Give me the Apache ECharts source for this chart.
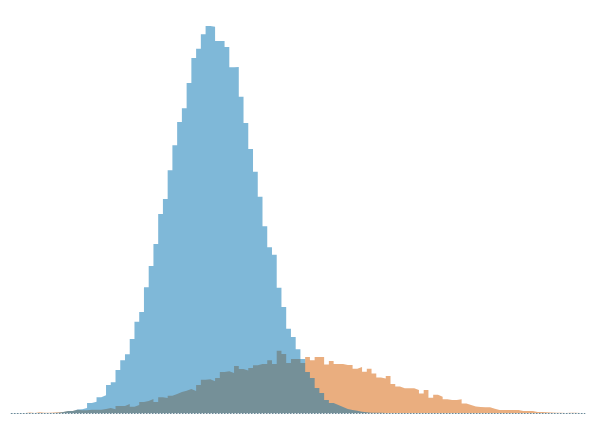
<!DOCTYPE html>
<html>
<head>
<meta charset="utf-8">
<script src="https://cdn.jsdelivr.net/npm/echarts@6/dist/echarts.min.js"></script>
<style>
html,body{margin:0;padding:0;background:#fff;}
#chart{width:600px;height:442px;}
</style>
</head>
<body>
<div id="chart"></div>
<script>
// Histogram bins (shared edges), index 0 = leftmost bin
const binCount = 121;

const blueCounts = [
  0,0,0,0,0,0,0,0,0,
  0.3,1,2,2,3.5,3.7,
  5,10,11.3,15.7,17.7,28,30.7,43,52.7,58.7,
  74,91.3,101,125.7,147,169,199,214,242.7,267.7,
  291,304.7,330,355,364.3,378.7,387,386.3,372,372,
  366,345.7,346,316.3,290,264,241.3,216.3,186.7,165.7,
  158.3,125.3,106,84.3,76,63.7,54,41,35,25,
  20,13,10,8,6,4,3,2.3,1.3,0.7,
  0.3,0.3,0.3,
  0,0,0,0,0,0,0,0,0,0,
  0,0,0,0,0,0,0,0,0,0,
  0,0,0,0,0,0,0,0,0,0,
  0,0,0,0,0,0,0,0,0,0,
  0,0,0
];

const orangeCounts = [
  0,0,0,0.5,0,0.7,0.3,0.3,0.5,0.7,1,2,2,3.3,2.7,
  2.7,3.3,3.3,3.3,4,5,3.7,7,7,9,
  6.3,8,11,12,14,11,15.7,15,17.3,19,
  21,22.3,24,22,28,33.3,33.7,31.7,35,41,
  41.7,40,47,44,42.5,45,47.7,49,49,52.7,
  49,62.3,59,50,54,54,50,56,52.7,56,
  56,48.5,52,49,49,48,48,44.3,46,41.3,
  44.3,39.5,35.5,34.5,37,29,26.5,24.7,24.7,24.7,
  23,19.5,23,15.2,18.2,16.2,13.8,13,13,13.8,
  9.5,8,6.5,6,5.7,5.7,4.3,3,3,3,
  3,3,2,2,2,1,1,0.7,0.5,0.3,
  0.3,0,0.3,0.3,0,0.3
];

function stepData(counts){
  const d = counts.map((v,i)=>[i, v]);
  d.push([counts.length, counts[counts.length-1]]);
  return d;
}

const chart = echarts.init(document.getElementById('chart'), null, {renderer:'canvas'});
chart.setOption({
  animation: false,
  backgroundColor: '#ffffff',
  grid: {left: 11.2, right: 15.1, top: 13, bottom: 29},
  xAxis: {
    type: 'value', min: 0, max: binCount,
    axisLine: {show: true, onZero: false, lineStyle: {color: '#6b8a99', width: 1, type: [1,2]}},
    axisTick: {show: false}, axisLabel: {show: false}, splitLine: {show: false}
  },
  yAxis: {
    type: 'value', min: 0, max: 400, show: false,
    splitLine: {show: false}
  },
  series: [
    {
      name: 'orange', type: 'line', step: 'end', symbol: 'none',
      data: stepData(orangeCounts),
      lineStyle: {width: 0, opacity: 0},
      areaStyle: {color: '#D55E00', opacity: 0.5, origin: 'start'},
      z: 1
    },
    {
      name: 'blue', type: 'line', step: 'end', symbol: 'none',
      data: stepData(blueCounts),
      lineStyle: {width: 0, opacity: 0},
      areaStyle: {color: '#0072B2', opacity: 0.5, origin: 'start'},
      z: 2
    }
  ]
});
</script>
</body>
</html>
